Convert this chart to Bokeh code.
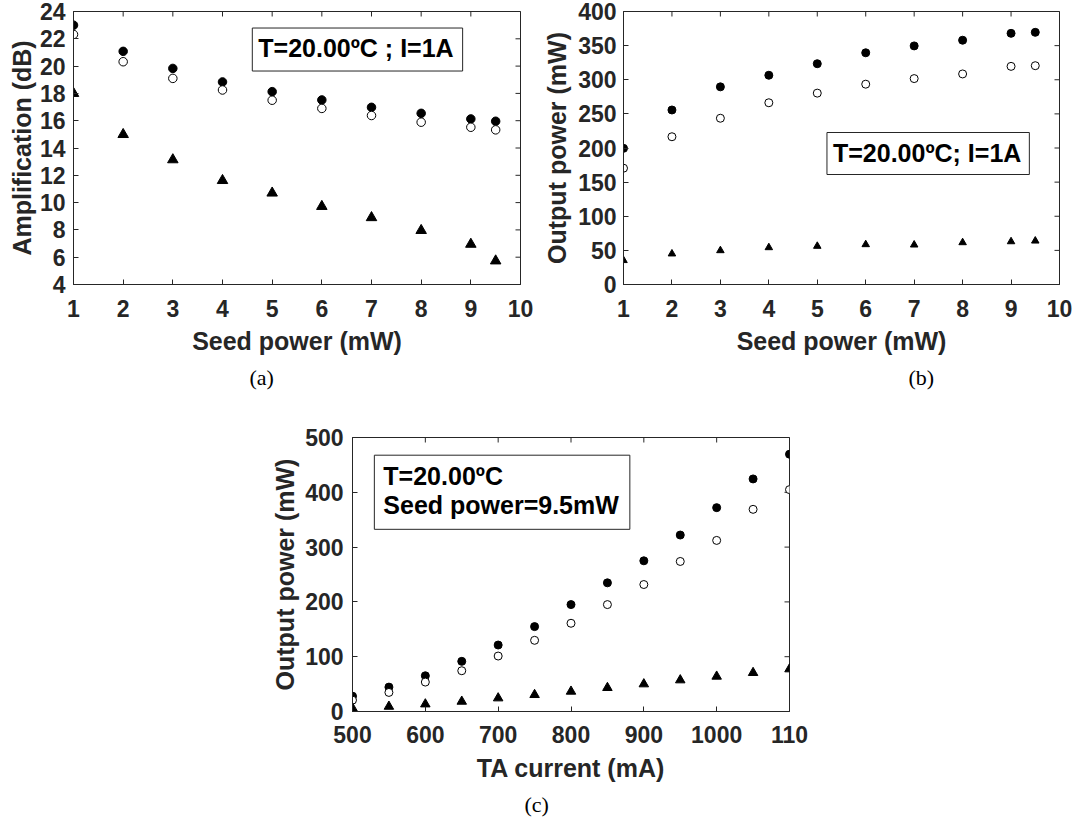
import math
from bokeh.plotting import figure
from bokeh.models import Range1d, FixedTicker, Label, Title, CustomJSTickFormatter
from bokeh.layouts import column, row
from bokeh.embed import file_html
from bokeh.resources import INLINE

# ---------------- data ----------------
seed_power = [1, 2, 3, 4, 5, 6, 7, 8, 9, 9.5]
amp_filled = [23.0, 21.08, 19.83, 18.84, 18.13, 17.52, 16.98, 16.54, 16.13, 15.96]
amp_open = [22.32, 20.32, 19.1, 18.25, 17.5, 16.9, 16.38, 15.89, 15.52, 15.33]
amp_tri = [18.0, 14.99, 13.14, 11.62, 10.7, 9.72, 8.9, 7.96, 6.95, 5.73]

pow_filled = [199.5, 255.7, 289.6, 306.6, 323.5, 339.5, 349.6, 357.9, 368.0, 369.5]
pow_open = [170.4, 216.5, 243.6, 266.3, 280.4, 293.5, 301.7, 308.5, 319.6, 320.6]
pow_tri = [35.3, 45.0, 49.8, 54.2, 56.2, 58.6, 58.1, 61.5, 62.9, 63.9]

ta_current = [500, 550, 600, 650, 700, 750, 800, 850, 900, 950, 1000, 1050, 1100]
cur_filled = [28.0, 44.5, 65.2, 91.5, 121.3, 154.9, 195.1, 234.8, 275.0, 322.0, 372.0, 424.4, 469.5]
cur_open = [20.7, 34.8, 53.7, 74.4, 101.2, 129.9, 161.0, 195.1, 231.7, 273.8, 312.2, 368.9, 404.9]
cur_tri = [6.1, 9.1, 13.4, 18.3, 24.4, 30.5, 36.6, 43.3, 50.0, 57.3, 64.0, 70.7, 77.4]

seed_ticks = [1, 2, 3, 4, 5, 6, 7, 8, 9, 10]
amp_ticks = [4, 6, 8, 10, 12, 14, 16, 18, 20, 22, 24]
pow_ticks = [0, 50, 100, 150, 200, 250, 300, 350, 400]
cur_ticks = [500, 600, 700, 800, 900, 1000, 1100]
cur_power_ticks = [0, 100, 200, 300, 400, 500]

AX = "#262626"
FONT = "Liberation Sans"


def style_axis(ax, ticks, label_standoff, major_standoff):
    ax.ticker = FixedTicker(ticks=ticks)
    ax.major_tick_in = 5
    ax.major_tick_out = 0
    ax.minor_tick_in = 0
    ax.minor_tick_out = 0
    ax.axis_line_color = AX
    ax.major_tick_line_color = AX
    ax.axis_line_width = 1
    ax.major_label_text_font = FONT
    ax.major_label_text_font_style = "bold"
    ax.major_label_text_font_size = "23px"
    ax.major_label_text_color = AX
    ax.axis_label_text_font = FONT
    ax.axis_label_text_font_style = "bold"
    ax.axis_label_text_font_size = "25px"
    ax.axis_label_text_color = AX
    ax.axis_label_standoff = label_standoff
    ax.major_label_standoff = major_standoff


def mirror_ticks(p, xticks, yticks, xr, yr):
    # tick marks on the top and right edges (half of each dash is clipped by the frame)
    p.scatter(xticks, [yr[1]] * len(xticks), marker="dash", size=10,
              angle=math.pi / 2, line_color=AX, line_width=1)
    p.scatter([xr[1]] * len(yticks), yticks, marker="dash", size=10,
              line_color=AX, line_width=1)


def make_panel(width, height, left, right, top, bottom, xr, yr, xticks, yticks,
               xlabel, ylabel, caption, cap_offset, cap_standoff,
               x_std=(15, 7), y_std=(8, 1)):
    p = figure(width=width, height=height, title=None,
               x_range=Range1d(*xr), y_range=Range1d(*yr),
               min_border_left=left, min_border_right=right,
               min_border_top=top, min_border_bottom=bottom,
               output_backend="svg", toolbar_location=None)
    p.grid.visible = False
    p.outline_line_color = AX
    p.background_fill_color = "white"
    p.border_fill_color = "white"
    p.xaxis.axis_label = xlabel
    p.yaxis.axis_label = ylabel
    style_axis(p.xaxis[0], xticks, x_std[1], x_std[0])
    style_axis(p.yaxis[0], yticks, y_std[1], y_std[0])
    mirror_ticks(p, xticks, yticks, xr, yr)
    cap = Title(text=caption, align="left", offset=cap_offset,
                text_font="Liberation Serif", text_font_size="22px",
                text_font_style="normal", text_color="black",
                standoff=cap_standoff)
    p.add_layout(cap, "below")
    return p


def add_series(p, x, filled, opened, tri, csize, tsize):
    p.scatter(x, filled, marker="circle", size=csize,
              fill_color="black", line_color="black")
    p.scatter(x, opened, marker="circle", size=csize,
              fill_color="white", line_color="black", line_width=1)
    p.scatter(x, tri, marker="triangle", size=tsize,
              fill_color="black", line_color="black")


def add_box(p, x, y, text, pad, line_height=1.2):
    p.add_layout(Label(x=x, y=y, text=text, anchor="top_left",
                       text_font=FONT, text_font_style="bold",
                       text_font_size="25px", text_color="black",
                       text_line_height=line_height,
                       background_fill_color="white",
                       border_line_color=AX, border_line_width=1,
                       padding=pad))


# ---------------- panel (a) ----------------
pa = make_panel(540, 400, 73, 20, 11, 116, (1, 10), (4, 24),
                seed_ticks, amp_ticks, "Seed power (mW)", "Amplification (dB)",
                "(a)", 176, 10)
add_series(pa, seed_power, amp_filled, amp_open, amp_tri, 8.5, 10.5)
add_box(pa, 4.6, 22.79, "T=20.00ºC ; I=1A", (6, 9, 6, 9))

# ---------------- panel (b) ----------------
pb = make_panel(540, 400, 79, 21, 11, 114, (1, 10), (0, 400),
                seed_ticks, pow_ticks, "Seed power (mW)", "Output power (mW)",
                "(b)", 285, 10, y_std=(7, 4))
add_series(pb, seed_power, pow_filled, pow_open, pow_tri, 8, 7.5)
add_box(pb, 5.2, 222.7, "T=20.00ºC; I=1A", (6, 8, 6, 8))

# ---------------- panel (c) ----------------
pc = make_panel(819, 427, 352, 30, 37, 116, (500, 1100), (0, 500),
                cur_ticks, cur_power_ticks, "TA current (mA)", "Output power (mW)",
                "(c)", 172, 10, x_std=(14, 8), y_std=(9, 3))
pc.xaxis[0].formatter = CustomJSTickFormatter(
    code="return tick >= 1100 ? '110' : tick.toFixed(0)")
add_series(pc, ta_current, cur_filled, cur_open, cur_tri, 8, 9.5)
add_box(pc, 530, 467.7, "T=20.00ºC\nSeed power=9.5mW", (9, 11, 7, 10), 1.04)

layout = column(row(pa, pb), pc)

open("out.html", "w").write(file_html(layout, INLINE))
